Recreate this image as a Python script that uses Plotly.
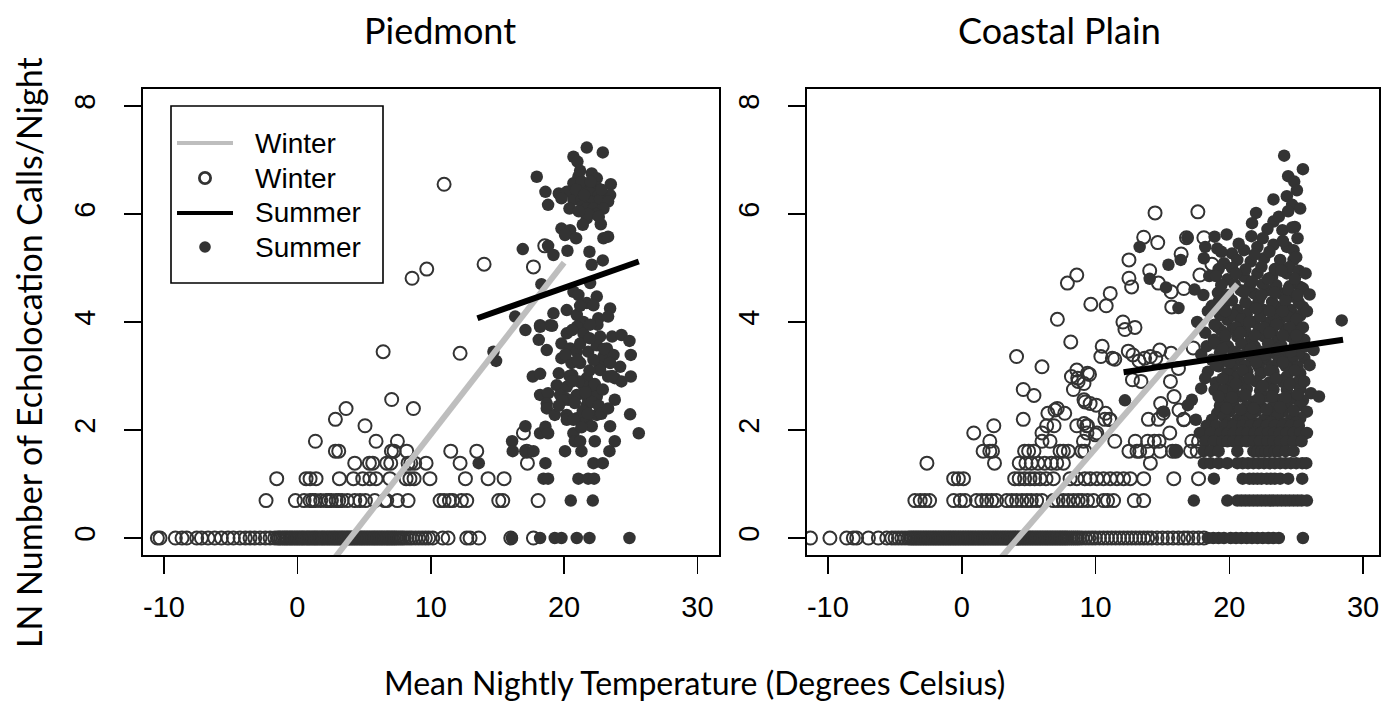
import plotly.graph_objects as go

# ---------------- DATA ----------------
# Each point: (mean nightly temperature in deg C, ln number of echolocation calls/night)

# Piedmont - winter nights (open circles)
pied_winter = (
    [(t, 0.0) for t in [-10.5, -10.3, -9.15, -8.65, -8.3, -7.55, -7.2, -6.7, -6.2, -5.7, -5.2, -4.8, -4.3, -3.9,
                        -3.55, -3.2, -2.8, -2.4, -2.05, -1.7, -1.5, -1.37, -1.25, -1.1, -0.98, -0.85, -0.74, -0.6,
                        -0.48, -0.36, -0.22, -0.1, 0.03, 0.15, 0.28, 0.4, 0.52, 0.66, 0.78, 0.9, 1.03, 1.16, 1.28,
                        1.4, 1.52, 1.65, 1.78, 1.9, 2.02, 2.15, 2.28, 2.4, 2.53, 2.66, 2.78, 2.9, 3.03, 3.15, 3.28,
                        3.4, 3.53, 3.66, 3.78, 3.9, 4.03, 4.15, 4.28, 4.4, 4.53, 4.66, 4.78, 4.9, 5.03, 5.15, 5.28,
                        5.4, 5.53, 5.66, 5.78, 5.9, 6.03, 6.15, 6.28, 6.4, 6.53, 6.66, 6.78, 6.9, 7.03, 7.15,
                        7.28, 7.4, 7.55, 7.7, 7.85, 8.0, 8.2, 8.4, 8.6, 8.85, 9.1, 9.35, 9.6, 9.85, 10.15, 10.9,
                        11.3, 12.7, 12.95, 13.6, 16.0, 17.7]]
    + [(t, 0.693) for t in [-2.35, -0.15, 0.5, 0.95, 1.15, 1.35, 1.75, 2.15, 2.35, 2.55, 2.9, 3.1, 3.35, 3.75,
                            4.3, 4.7, 5.1, 5.8, 6.55, 6.7, 7.5, 8.3, 10.7, 11.0, 11.4, 11.65, 12.3, 12.7, 15.1,
                            15.4, 18.05]]
    + [(t, 1.099) for t in [-1.55, 0.65, 0.95, 1.4, 3.15, 4.2, 4.9, 5.44, 5.9, 6.94, 8.15, 8.44, 8.75, 9.94,
                            12.6, 14.3, 15.5]]
    + [(t, 1.386) for t in [4.3, 5.4, 5.65, 6.7, 7.0, 8.3, 8.5, 8.8, 9.65, 12.2, 17.25]]
    + [(t, 1.609) for t in [2.85, 3.1, 7.05, 7.25, 8.2, 11.5, 13.45, 17.2]]
    + [(t, 1.792) for t in [1.35, 5.9, 7.5]]
    + [(16.95, 1.946), (5.07, 2.079), (2.85, 2.197), (3.65, 2.398), (8.7, 2.398), (7.07, 2.565),
       (6.43, 3.45), (12.2, 3.42), (8.6, 4.81), (9.7, 4.98), (14.0, 5.07), (17.7, 5.02), (18.55, 5.41),
       (11.0, 6.55)]
)

# Piedmont - summer nights (filled dots)
pied_summer = (
    [(21.7, 7.23), (22.9, 7.14), (20.7, 7.06), (21.0, 6.97), (17.95, 6.69), (21.07, 6.69), (22.07, 6.75),
     (22.45, 6.66), (20.7, 6.57), (21.57, 6.54), (23.5, 6.55), (21.3, 6.6), (18.6, 6.41), (19.6, 6.38),
     (20.2, 6.41), (22.2, 6.44), (22.45, 6.49), (21.9, 6.4), (22.6, 6.35), (19.8, 6.29), (20.7, 6.26),
     (21.3, 6.27), (21.95, 6.23), (22.7, 6.26), (23.45, 6.35), (23.3, 6.23), (18.8, 6.17), (21.4, 6.15),
     (21.7, 6.1), (22.2, 6.1), (22.95, 6.1), (22.4, 6.0), (21.7, 5.92), (21.8, 6.0), (22.75, 5.81),
     (19.8, 5.73), (20.45, 5.70), (20.07, 5.61), (22.95, 5.55), (23.3, 5.58), (16.9, 5.35), (18.8, 5.41),
     (19.2, 5.24), (20.25, 5.32), (21.9, 5.30), (22.07, 5.06), (22.9, 5.14), (18.3, 4.70), (20.7, 4.56),
     (21.07, 4.5), (21.95, 4.72), (22.45, 4.47), (21.7, 4.35), (22.2, 4.31), (23.45, 4.25), (19.2, 4.16),
     (20.2, 4.22), (16.33, 4.10), (18.2, 3.94), (18.95, 3.94), (20.95, 4.13), (21.45, 4.0), (22.57, 4.07),
     (23.3, 4.10), (20.9, 6.45), (21.5, 6.35), (22.0, 6.6), (22.8, 6.45), (21.2, 6.8), (20.4, 6.1),
     (21.1, 6.05), (22.6, 5.95), (21.4, 5.8), (20.9, 5.55)]
    + [(17.1, 3.85), (18.2, 3.91), (19.1, 3.93), (20.2, 3.79), (20.95, 3.91), (21.45, 3.79), (22.7, 3.73),
       (23.6, 3.73), (24.3, 3.76), (24.9, 3.65), (18.1, 3.67), (18.7, 3.48), (19.8, 3.6), (20.45, 3.51),
       (20.95, 3.45), (21.8, 3.45), (22.45, 3.57), (23.2, 3.51), (22.95, 3.36), (23.7, 3.39), (25.0, 3.39),
       (19.8, 3.33), (20.55, 3.24), (21.2, 3.24), (22.7, 3.17), (23.45, 3.24), (24.2, 3.17), (14.7, 3.45),
       (14.9, 3.28), (17.65, 2.99), (18.2, 3.04), (19.6, 3.05), (20.6, 3.02), (21.7, 2.96), (22.7, 3.11),
       (23.3, 2.99), (23.8, 2.96), (24.3, 2.90), (25.0, 2.99), (19.45, 2.83), (20.2, 2.80), (21.45, 2.83),
       (22.07, 2.74), (18.2, 2.65), (18.8, 2.68), (19.7, 2.65), (20.07, 2.59), (20.95, 2.65), (21.7, 2.62),
       (22.45, 2.62), (18.7, 2.49), (20.3, 2.56), (21.7, 2.46), (22.07, 2.52), (23.8, 2.56), (18.7, 2.40),
       (19.3, 2.28), (20.2, 2.28), (20.95, 2.22), (21.7, 2.19), (22.45, 2.28), (24.95, 2.29), (20.2, 2.19),
       (20.7, 2.19), (22.07, 2.07), (23.45, 2.07), (25.6, 1.94), (17.1, 2.07), (18.2, 1.94), (18.6, 2.06),
       (18.8, 1.94), (20.7, 1.94), (20.4, 3.0), (21.1, 2.9), (21.9, 3.1), (22.3, 2.85), (20.8, 2.5),
       (21.4, 2.35), (22.6, 2.45), (21.2, 3.6), (21.9, 3.7), (22.2, 3.3), (21.0, 3.3), (20.1, 3.4),
       (21.6, 2.7), (22.9, 2.75), (21.3, 2.05), (21.8, 2.3), (22.5, 3.95), (21.2, 4.3), (20.6, 3.85),
       (21.95, 3.95), (23.0, 3.5), (23.6, 3.0), (20.6, 2.9), (19.9, 2.55), (19.6, 2.45), (22.8, 2.3),
       (23.3, 2.4)]
    + [(t, 1.792) for t in [16.1, 20.8, 21.2, 22.3, 23.8]]
    + [(t, 1.609) for t in [16.15, 17.1, 17.7, 20.07, 21.3, 23.4]]
    + [(t, 1.386) for t in [13.6, 18.6, 22.2, 22.9]]
    + [(t, 1.099) for t in [18.45, 18.8, 21.07, 21.8, 22.25]]
    + [(t, 0.693) for t in [20.5, 22.15]]
    + [(t, 0.0) for t in [16.08, 18.2, 19.3, 19.8, 20.95, 21.9, 24.9]]
)

# Coastal Plain - winter nights (open circles)
coast_winter = (
    [(t, 0.0) for t in [-11.3, -9.85, -8.6, -8.1, -7.85, -6.97, -6.23, -5.6, -5.23, -4.98, -4.73, -4.48, -4.24,
                        -4.0, -3.85, -3.72, -3.6, -3.47, -3.35, -3.22, -3.1, -2.97, -2.85, -2.72, -2.6, -2.47,
                        -2.35, -2.22, -2.1, -1.97, -1.85, -1.72, -1.6, -1.47, -1.35, -1.22, -1.1, -0.97, -0.85,
                        -0.72, -0.6, -0.47, -0.35, -0.22, -0.1, 0.03, 0.15, 0.28, 0.4, 0.53, 0.65, 0.78, 0.9,
                        1.03, 1.15, 1.28, 1.4, 1.53, 1.65, 1.78, 1.9, 2.03, 2.15, 2.28, 2.4, 2.53, 2.65, 2.78,
                        2.9, 3.03, 3.15, 3.28, 3.4, 3.53, 3.65, 3.78, 3.9, 4.03, 4.15, 4.28, 4.4, 4.53, 4.65,
                        4.78, 4.9, 5.03, 5.15, 5.28, 5.4, 5.53, 5.65, 5.78, 5.9, 6.03, 6.15, 6.28, 6.4, 6.53,
                        6.65, 6.78, 6.9, 7.03, 7.15, 7.28, 7.4, 7.53, 7.65, 7.78, 7.9, 8.05, 8.2, 8.35, 8.5,
                        8.65, 8.8, 9.0, 9.25, 9.5, 9.75, 10.0, 10.3, 10.6, 10.9, 11.2, 11.5, 11.8, 12.1, 12.4,
                        12.7, 13.0, 13.3, 13.6, 13.9, 14.2, 14.6, 15.0, 15.4, 15.8, 16.2, 16.6, 16.9, 17.3,
                        17.7, 18.1]]
    + [(t, 0.693) for t in [-3.5, -3.1, -2.75, -2.4, -0.6, -0.1, 0.25, 1.1, 1.5, 1.87, 2.24, 2.6, 3.36, 3.74,
                            4.1, 4.5, 4.86, 5.2, 5.6, 6.0, 6.85, 7.2, 7.6, 7.97, 8.35, 8.7, 9.0, 9.4, 9.85, 10.6,
                            10.9, 11.35, 12.9, 13.6]]
    + [(t, 1.099) for t in [-0.6, -0.25, 0.13, 3.96, 4.3, 4.7, 5.1, 5.45, 5.85, 6.3, 6.85, 8.1, 8.6, 9.2, 9.6,
                            10.1, 10.6, 11.1, 11.6, 12.1, 12.6, 13.6, 15.85, 17.7]]
    + [(t, 1.386) for t in [-2.6, 2.45, 4.3, 4.8, 5.2, 5.7, 6.2, 6.7, 7.1, 7.6, 14.1]]
    + [(t, 1.609) for t in [1.6, 2.1, 2.3, 4.7, 5.0, 5.4, 7.35, 7.6, 7.97, 8.97, 9.2, 12.5, 13.1, 13.3, 13.9,
                            14.85, 15.75, 16.0, 17.1, 17.6]]
    + [(t, 1.792) for t in [2.1, 6.0, 6.6, 9.1, 11.44, 12.97, 13.9, 14.4, 14.75, 17.2, 17.7]]
    + [(t, 1.946) for t in [0.9, 6.0, 9.36, 10.1, 15.55]]
    + [(t, 2.079) for t in [2.4, 6.35, 6.9, 8.6, 9.34, 9.4]]
    + [(t, 2.197) for t in [4.6, 10.7, 11.05, 13.95, 14.7, 16.6]]
    + [(9.14, 2.12), (6.44, 2.31), (7.14, 2.4), (7.7, 2.31), (6.97, 2.37), (9.22, 2.52), (10.05, 2.46),
       (10.75, 2.31), (9.14, 2.56), (4.6, 2.75), (5.4, 2.64), (9.6, 2.49), (8.35, 2.75), (8.7, 2.9),
       (8.2, 2.99), (8.6, 3.11), (9.55, 3.03), (8.67, 2.96), (9.4, 3.05), (9.14, 2.86), (4.1, 3.36),
       (6.0, 3.17), (8.15, 3.63), (7.15, 4.05), (10.4, 3.36), (10.5, 3.55), (11.44, 3.31), (11.26, 3.33),
       (12.45, 3.46), (12.8, 3.39), (13.25, 3.28), (14.1, 3.36), (14.8, 3.48), (15.65, 3.42), (16.2, 3.14),
       (17.3, 3.52), (13.67, 3.33), (14.5, 3.33), (12.76, 2.93), (13.4, 2.9), (15.6, 2.9), (15.87, 2.62),
       (14.87, 2.49), (15.06, 2.31), (16.24, 2.37), (16.6, 2.19), (11.1, 2.19), (10.0, 1.91), (12.05, 4.0),
       (12.2, 3.86), (12.95, 3.9), (9.65, 4.33), (10.8, 4.30), (11.1, 4.53), (7.9, 4.72), (8.6, 4.87),
       (12.5, 4.81), (12.7, 4.65), (12.5, 5.15), (14.05, 4.95), (14.7, 4.72), (15.65, 4.56), (16.6, 4.62),
       (15.7, 4.28), (17.8, 4.87), (18.7, 5.07), (16.4, 5.26), (13.6, 5.57), (14.65, 5.47), (16.8, 5.56),
       (18.1, 5.56), (14.45, 6.02), (17.65, 6.04)]
)

# Coastal Plain - summer nights (filled dots)
coast_summer = (
    [(24.1, 7.08), (25.5, 6.83), (24.4, 6.70), (24.85, 6.6), (25.05, 6.44), (23.3, 6.27), (24.3, 6.33),
     (24.7, 6.17), (22.0, 6.02), (21.7, 5.83), (23.3, 5.86), (24.9, 5.76), (19.8, 5.62), (18.9, 5.58),
     (21.65, 5.59), (22.85, 5.72), (23.97, 5.70), (24.7, 5.75), (25.1, 5.55), (13.3, 5.39), (16.86, 5.56),
     (18.2, 5.39), (19.1, 5.36), (20.2, 5.27), (21.1, 5.33), (22.1, 5.39), (23.3, 5.43), (24.3, 5.39),
     (24.8, 5.33), (16.37, 5.15), (15.45, 5.06), (18.1, 5.18), (19.6, 5.09), (20.6, 5.15), (21.6, 5.12),
     (22.6, 5.18), (23.8, 5.15), (24.8, 5.15), (14.05, 4.8), (15.27, 4.64), (19.86, 4.79), (21.1, 4.84),
     (22.1, 4.90), (23.2, 4.84), (24.3, 4.9), (25.3, 4.65), (25.5, 4.62), (26.0, 4.51), (18.06, 4.5),
     (19.15, 4.54), (16.2, 4.26), (20.85, 4.59), (21.85, 4.53), (22.85, 4.59), (23.8, 4.53), (24.8, 4.47),
     (19.6, 4.28), (20.6, 4.22), (21.6, 4.28), (22.6, 4.22), (23.6, 4.28), (24.6, 4.22), (25.5, 4.28),
     (19.86, 4.04), (20.85, 3.98), (21.85, 4.0), (22.85, 3.98), (23.8, 4.04), (24.8, 3.98), (19.1, 3.91),
     (18.86, 3.67), (19.6, 3.67), (20.6, 3.73), (21.6, 3.67), (22.6, 3.73), (23.6, 3.67), (24.6, 3.73),
     (25.6, 3.67), (28.4, 4.03), (26.3, 3.48), (25.6, 3.33), (17.6, 4.0), (18.2, 3.8), (17.9, 3.4),
     (18.3, 3.55), (17.4, 4.6), (18.5, 4.85), (18.4, 4.2)]
    + [(19.2, 4.98), (20.2, 5.0), (21.2, 4.97), (22.4, 5.02), (23.4, 4.98), (24.5, 5.02), (25.2, 4.95),
       (19.4, 4.68), (20.4, 4.7), (21.5, 4.66), (22.5, 4.7), (23.5, 4.68), (24.5, 4.66),
       (19.2, 4.38), (20.2, 4.4), (21.2, 4.36), (22.2, 4.4), (23.2, 4.37), (24.2, 4.4), (25.2, 4.36),
       (19.3, 4.13), (20.3, 4.12), (21.3, 4.14), (22.3, 4.1), (23.3, 4.13), (24.3, 4.11), (25.3, 4.12),
       (19.4, 3.84), (20.2, 3.86), (21.2, 3.83), (22.2, 3.86), (23.2, 3.84), (24.2, 3.85), (25.2, 3.83),
       (18.9, 3.6), (19.9, 3.55), (20.9, 3.6), (21.9, 3.55), (22.9, 3.6), (23.9, 3.56), (24.9, 3.58),
       (19.3, 3.43), (20.3, 3.45), (21.3, 3.42), (22.3, 3.45), (23.3, 3.43), (24.3, 3.44), (25.2, 3.42),
       (18.7, 3.3), (19.7, 3.31), (20.7, 3.29), (21.7, 3.32), (22.7, 3.3), (23.7, 3.31), (24.7, 3.29),
       (19.2, 3.18), (20.2, 3.17), (21.2, 3.19), (22.2, 3.17), (23.2, 3.18), (24.2, 3.19), (25.1, 3.17),
       (18.4, 3.08), (19.86, 3.05), (20.6, 2.99), (21.35, 3.08), (22.35, 3.05), (23.3, 3.08), (24.3, 2.99),
       (25.3, 3.05), (18.2, 2.96),
       (19.0, 2.88), (20.0, 2.9), (21.0, 2.87), (22.0, 2.9), (23.0, 2.88), (24.0, 2.89), (25.0, 2.87),
       (17.9, 2.77), (18.9, 2.74), (19.6, 2.74), (20.3, 2.74), (21.3, 2.76), (22.3, 2.73), (23.3, 2.75),
       (24.3, 2.74), (25.3, 2.76), (26.1, 2.68), (26.7, 2.62),
       (12.2, 2.55), (17.2, 2.56), (19.86, 2.56), (20.85, 2.62), (21.85, 2.53), (22.85, 2.62), (23.8, 2.56),
       (24.8, 2.59), (25.5, 2.55),
       (16.9, 2.46), (19.3, 2.45), (20.3, 2.47), (21.3, 2.44), (22.3, 2.46), (23.3, 2.45), (24.3, 2.44),
       (25.3, 2.46),
       (15.1, 2.34), (19.1, 2.31), (20.0, 2.34), (21.0, 2.33), (22.0, 2.35), (23.0, 2.32), (24.0, 2.34),
       (25.8, 2.34),
       (17.5, 2.19), (18.7, 2.19), (19.6, 2.25), (20.6, 2.19), (21.6, 2.25), (22.6, 2.19), (23.6, 2.25),
       (24.6, 2.19), (25.3, 2.22)]
    + [(19.4, 5.3), (20.7, 5.45), (21.9, 5.25), (23.0, 5.3), (24.0, 5.5), (25.0, 5.2), (22.5, 5.55),
       (23.7, 5.95), (24.4, 6.05), (25.3, 6.1), (19.0, 4.85), (20.5, 4.9), (21.7, 4.75), (22.9, 4.8),
       (23.9, 4.95), (24.9, 4.8), (25.7, 4.9), (18.7, 4.3), (19.9, 4.5), (21.1, 4.55), (22.4, 4.5),
       (23.4, 4.55), (24.4, 4.6), (25.1, 4.5), (19.7, 4.2), (20.9, 4.05), (22.0, 4.25), (23.0, 4.2),
       (24.0, 4.2), (25.0, 4.05), (25.8, 4.2), (18.9, 3.95), (20.5, 3.9), (21.5, 4.0), (22.6, 3.9),
       (23.5, 3.95), (24.5, 3.9), (25.5, 3.9), (19.7, 3.75), (20.8, 3.8), (21.9, 3.75), (23.0, 3.8),
       (24.0, 3.75), (25.0, 3.75), (19.5, 3.5), (20.6, 3.4), (21.6, 3.5), (22.6, 3.4), (23.6, 3.5),
       (24.6, 3.45), (25.7, 3.55), (19.0, 3.2), (20.0, 3.25), (21.0, 3.1), (22.0, 3.25), (23.0, 3.1),
       (24.0, 3.25), (24.9, 3.1), (26.0, 3.2), (19.5, 2.95), (20.5, 2.85), (21.5, 2.95), (22.5, 2.82),
       (23.5, 2.95), (24.5, 2.85), (25.6, 2.9), (19.2, 2.62), (20.2, 2.6), (21.2, 2.65), (22.2, 2.58),
       (23.2, 2.62), (24.2, 2.6), (25.1, 2.66), (19.8, 2.4), (20.8, 2.38), (21.8, 2.4), (22.8, 2.38),
       (23.8, 2.42), (24.8, 2.36), (19.9, 2.13), (21.0, 2.15), (22.1, 2.12), (23.1, 2.14), (24.1, 2.12),
       (25.0, 2.14)]
    + [(t, 2.079) for t in [18.3, 19.0, 19.7, 20.3, 21.0, 21.6, 22.2, 22.8, 23.4, 24.0, 24.6, 25.2]]
    + [(t, 1.946) for t in [17.8, 18.6, 19.36, 19.9, 20.35, 20.9, 21.35, 21.9, 22.35, 22.9, 23.35, 23.8, 24.3,
                            24.8, 25.3, 25.8]]
    + [(t, 1.792) for t in [18.2, 18.86, 19.5, 19.86, 20.3, 20.85, 21.3, 21.85, 22.3, 22.85, 23.3, 23.8, 24.3,
                            24.8, 25.4]]
    + [(t, 1.609) for t in [16.0, 18.1, 18.6, 19.2, 20.6, 21.8, 22.1, 22.4, 22.7, 23.0, 23.4, 23.7, 24.2, 24.8]]
    + [(t, 1.386) for t in [18.1, 18.6, 19.2, 19.85, 20.6, 21.0, 21.4, 21.8, 22.2, 22.6, 23.0, 23.4, 23.8, 24.2,
                            24.6, 25.0, 25.45, 25.75]]
    + [(t, 1.099) for t in [18.85, 21.0, 21.5, 21.8, 22.1, 22.4, 22.8, 23.1, 23.4, 23.8, 24.4, 25.45]]
    + [(t, 0.693) for t in [17.35, 19.85, 20.6, 20.9, 21.2, 21.5, 21.8, 22.1, 22.4, 22.7, 23.0, 23.3, 23.6, 23.9,
                            24.2, 24.5, 24.8, 25.1, 25.4, 25.8]]
    + [(t, 0.0) for t in [18.4, 18.8, 19.2, 19.6, 20.1, 20.5, 20.9, 21.3, 21.7, 22.1, 22.5, 22.9, 23.3, 23.7,
                          25.5]]
)

# fitted regression lines (end points of the drawn segments)
pied_winter_fit_temp = [-10.5, 20.0]
pied_winter_fit_ln = [-4.60, 5.10]
pied_summer_fit_temp = [13.5, 25.6]
pied_summer_fit_ln = [4.07, 5.12]
coast_winter_fit_temp = [-11.3, 20.6]
coast_winter_fit_ln = [-4.45, 4.70]
coast_summer_fit_temp = [12.1, 28.5]
coast_summer_fit_ln = [3.07, 3.67]

x_ticks = [-10, 0, 10, 20, 30]
x_tick_labels = ["-10", "0", "10", "20", "30"]
y_ticks = [0, 2, 4, 6, 8]
y_tick_labels = ["0", "2", "4", "6", "8"]
panel_titles = ["Piedmont", "Coastal Plain"]
legend_labels = ["Winter", "Winter", "Summer", "Summer"]

# ---------------- STYLE ----------------
W, H = 1388, 704
PT = "#333333"
GRAY = "#BEBEBE"
TICK_FONT = dict(family="Liberation Sans, Arial, sans-serif", size=29, color="black")
PANEL_FONT = dict(family="Lato, Open Sans, sans-serif", size=36, color="black")
XT_FONT = dict(family="Lato, Open Sans, sans-serif", size=32, color="black")
YT_FONT = dict(family="Lato, Open Sans, sans-serif", size=34, color="black")


def px_x(p):
    return p / W


def px_y(p):
    return 1 - p / H


fig = go.Figure()

panels = [
    ("x", "y", pied_winter, pied_summer, pied_winter_fit_temp, pied_winter_fit_ln,
     pied_summer_fit_temp, pied_summer_fit_ln),
    ("x2", "y2", coast_winter, coast_summer, coast_winter_fit_temp, coast_winter_fit_ln,
     coast_summer_fit_temp, coast_summer_fit_ln),
]
for xa, ya, win, summ, wft, wfl, sft, sfl in panels:
    fig.add_trace(go.Scatter(
        x=[p[0] for p in win], y=[p[1] for p in win], xaxis=xa, yaxis=ya, mode="markers",
        marker=dict(symbol="circle-open", size=13, color=PT, line=dict(width=2.0, color=PT)),
        showlegend=False, hoverinfo="skip", cliponaxis=True))
    fig.add_trace(go.Scatter(
        x=[p[0] for p in summ], y=[p[1] for p in summ], xaxis=xa, yaxis=ya, mode="markers",
        marker=dict(symbol="circle", size=12.5, color=PT, line=dict(width=0)),
        showlegend=False, hoverinfo="skip", cliponaxis=True))
    fig.add_trace(go.Scatter(
        x=wft, y=wfl, xaxis=xa, yaxis=ya, mode="lines",
        line=dict(color=GRAY, width=6), showlegend=False, hoverinfo="skip"))
    fig.add_trace(go.Scatter(
        x=sft, y=sfl, xaxis=xa, yaxis=ya, mode="lines",
        line=dict(color="black", width=6), showlegend=False, hoverinfo="skip"))

axis_common = dict(
    ticks="outside", ticklen=17, tickwidth=1.6, tickcolor="black",
    showline=True, linewidth=2, linecolor="black", mirror=True,
    showgrid=False, zeroline=False, tickfont=TICK_FONT, fixedrange=True,
)
y_dom = [px_y(555.3), px_y(88.7)]
fig.update_layout(
    width=W, height=H,
    margin=dict(l=0, r=0, t=0, b=0),
    paper_bgcolor="white", plot_bgcolor="white",
    showlegend=False,
    xaxis=dict(domain=[px_x(142.7), px_x(718.8)], range=[-11.6, 31.6], tickvals=x_ticks,
               ticktext=x_tick_labels, anchor="y", ticklabelstandoff=8, **axis_common),
    yaxis=dict(domain=y_dom, range=[-0.32, 8.32], tickvals=y_ticks, ticktext=y_tick_labels,
               tickangle=-90, anchor="x", ticklabelstandoff=17, **axis_common),
    xaxis2=dict(domain=[px_x(806.5), px_x(1378.5)], range=[-11.6, 31.15], tickvals=x_ticks,
                ticktext=x_tick_labels, anchor="y2", ticklabelstandoff=8, **axis_common),
    yaxis2=dict(domain=y_dom, range=[-0.32, 8.32], tickvals=y_ticks, ticktext=y_tick_labels,
                tickangle=-90, anchor="x2", ticklabelstandoff=17, **axis_common),
)

ann = [
    dict(text=panel_titles[0], x=px_x(440), y=px_y(30), xref="paper", yref="paper", showarrow=False,
         font=PANEL_FONT, xanchor="center", yanchor="middle"),
    dict(text=panel_titles[1], x=px_x(1059), y=px_y(30), xref="paper", yref="paper", showarrow=False,
         font=PANEL_FONT, xanchor="center", yanchor="middle"),
    dict(text="Mean Nightly Temperature (Degrees Celsius)", x=px_x(695), y=px_y(682), xref="paper",
         yref="paper", showarrow=False, font=XT_FONT, xanchor="center", yanchor="middle"),
    dict(text="LN Number of Echolocation Calls/Night", x=px_x(28), y=px_y(353), xref="paper",
         yref="paper", showarrow=False, font=YT_FONT, textangle=-90, xanchor="center",
         yanchor="middle"),
]

# ---- legend box (drawn manually, R style) ----
LEG_FONT = dict(family="Liberation Sans, Arial, sans-serif", size=28, color="black")
shapes = [dict(type="rect", xref="paper", yref="paper", x0=px_x(171), x1=px_x(383), y0=px_y(283),
               y1=px_y(106), line=dict(color="black", width=1.6), fillcolor="white", layer="above")]
rows_y = [143, 178, 213, 247]
for i, ry in enumerate(rows_y):
    if i in (0, 2):
        shapes.append(dict(type="line", xref="paper", yref="paper", x0=px_x(177), x1=px_x(233),
                           y0=px_y(ry), y1=px_y(ry), line=dict(color=GRAY if i == 0 else "black", width=4),
                           layer="above"))
    elif i == 1:
        r = 5.6
        shapes.append(dict(type="circle", xref="paper", yref="paper", x0=px_x(205 - r), x1=px_x(205 + r),
                           y0=px_y(ry + r), y1=px_y(ry - r), line=dict(color=PT, width=2.8), layer="above"))
    else:
        r = 5.8
        shapes.append(dict(type="circle", xref="paper", yref="paper", x0=px_x(205 - r), x1=px_x(205 + r),
                           y0=px_y(ry + r), y1=px_y(ry - r), line=dict(color=PT, width=0), fillcolor=PT,
                           layer="above"))
    ann.append(dict(text=legend_labels[i], x=px_x(253), y=px_y(ry), xref="paper", yref="paper",
                    showarrow=False, font=LEG_FONT, xanchor="left", yanchor="middle"))

fig.update_layout(annotations=ann, shapes=shapes)

fig.write_html("out.html", include_plotlyjs=True, full_html=True,
               config={"displayModeBar": False, "staticPlot": True},
               post_script="document.body.style.margin='0';document.body.style.overflow='hidden';")
